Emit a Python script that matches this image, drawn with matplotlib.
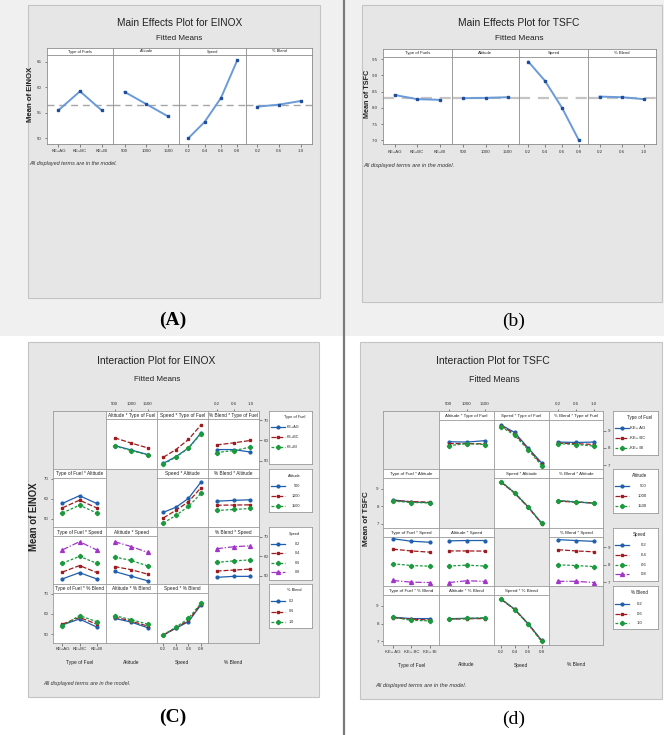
import matplotlib
matplotlib.use('Agg')
import matplotlib.pyplot as plt
from matplotlib import font_manager as fm
from matplotlib.patches import Rectangle
from matplotlib.lines import Line2D

# ---------------- data ----------------
FACTORS = ['Type of Fuel', 'Altitude', 'Speed', '% Blend']
MAIN_STRIPS = ['Type of Fuels', 'Altitude', 'Speed', '% Blend']
TYPE_LEVELS = ['KE+AG', 'KE+BC', 'KE+BI']
TYPE_LEVELS_D = ['KE+ AG', 'KE+ BC', 'KE+ BI']
ALT_LEVELS = [500, 1000, 1500]
SPEED_LEVELS = [0.2, 0.4, 0.6, 0.8]
BLEND_LEVELS = [0.2, 0.6, 1.0]

# Main effects EINOX
EINOX_MAIN_TYPE = [55.5, 59.2, 55.5]
EINOX_MAIN_ALT = [59.1, 56.7, 54.3]
EINOX_MAIN_SPEED = [50.0, 53.2, 57.9, 65.3]
EINOX_MAIN_BLEND = [56.2, 56.6, 57.3]
EINOX_MEAN = 56.6
EINOX_MAIN_TICKS = [50, 55, 60, 65]

# Main effects TSFC
TSFC_MAIN_TYPE = [8.40, 8.27, 8.25]
TSFC_MAIN_ALT = [8.30, 8.31, 8.33]
TSFC_MAIN_SPEED = [9.43, 8.83, 8.01, 7.01]
TSFC_MAIN_BLEND = [8.35, 8.33, 8.27]
TSFC_MEAN = 8.31
TSFC_MAIN_TICKS = [7.0, 7.5, 8.0, 8.5, 9.0, 9.5]

# Interaction EINOX  (series = levels of row factor, x = levels of column factor)
EINOX_ALT_BY_TYPE = [[57.5, 55.3, 53.0], [61.3, 58.7, 56.3], [57.3, 55.0, 52.8]]
EINOX_SPEED_BY_TYPE = [[48.7, 52.0, 56.3, 63.7], [51.7, 55.5, 60.5, 67.7], [48.3, 51.8, 56.2, 63.3]]
EINOX_BLEND_BY_TYPE = [[55.5, 55.5, 54.3], [57.8, 58.8, 60.0], [54.0, 55.0, 56.7]]
EINOX_TYPE_BY_ALT = [[57.7, 61.5, 57.7], [55.5, 59.3, 55.5], [53.0, 56.8, 53.0]]
EINOX_SPEED_BY_ALT = [[53.3, 55.8, 60.2, 68.3], [50.5, 54.3, 58.5, 65.5], [48.0, 51.8, 56.2, 62.7]]
EINOX_BLEND_BY_ALT = [[58.8, 59.2, 59.5], [56.8, 56.9, 57.0], [54.2, 54.7, 55.2]]
EINOX_TYPE_BY_SPEED = [[48.5, 51.7, 48.5], [52.0, 55.3, 51.8], [56.5, 60.0, 56.5], [63.3, 67.5, 63.3]]
EINOX_ALT_BY_SPEED = [[52.3, 49.9, 47.5], [54.8, 53.2, 50.9], [59.7, 57.9, 55.1], [67.5, 65.0, 62.0]]
EINOX_BLEND_BY_SPEED = [[49.3, 49.8, 49.8], [52.5, 53.0, 53.5], [56.9, 57.7, 58.2], [63.9, 64.9, 65.4]]
EINOX_TYPE_BY_BLEND = [[54.6, 57.5, 53.6], [55.0, 58.3, 55.0], [54.2, 59.2, 56.2]]
EINOX_ALT_BY_BLEND = [[57.8, 56.0, 53.2], [58.5, 56.5, 54.0], [59.2, 57.2, 55.0]]
EINOX_SPEED_BY_BLEND = [[49.6, 53.0, 56.2, 64.5], [49.7, 53.2, 56.8, 65.0], [49.8, 53.5, 57.8, 65.3]]
EINOX_INT_TICKS = [50, 60, 70]

# Interaction TSFC
TSFC_ALT_BY_TYPE = [[8.36, 8.34, 8.42], [8.25, 8.25, 8.24], [8.13, 8.25, 8.20]]
TSFC_SPEED_BY_TYPE = [[9.33, 8.90, 8.00, 7.14], [9.28, 8.82, 7.95, 7.06], [9.23, 8.74, 7.90, 6.98]]
TSFC_BLEND_BY_TYPE = [[8.34, 8.32, 8.34], [8.28, 8.25, 8.20], [8.25, 8.20, 8.11]]
TSFC_TYPE_BY_ALT = [[8.37, 8.25, 8.21], [8.33, 8.27, 8.24], [8.30, 8.22, 8.20]]
TSFC_SPEED_BY_ALT = [[9.40, 8.77, 7.97, 7.04], [9.38, 8.75, 7.95, 7.02], [9.42, 8.79, 7.99, 7.06]]
TSFC_BLEND_BY_ALT = [[8.32, 8.25, 8.18], [8.30, 8.24, 8.20], [8.33, 8.26, 8.19]]
TSFC_TYPE_BY_SPEED = [[9.50, 9.36, 9.30], [8.90, 8.80, 8.73], [8.06, 7.96, 7.92], [7.10, 7.00, 6.98]]
TSFC_ALT_BY_SPEED = [[9.38, 9.40, 9.40], [8.80, 8.80, 8.79], [7.93, 7.98, 7.93], [6.98, 7.08, 7.05]]
TSFC_BLEND_BY_SPEED = [[9.45, 9.40, 9.35], [8.87, 8.80, 8.75], [8.00, 7.96, 7.90], [7.05, 7.05, 6.98]]
TSFC_TYPE_BY_BLEND = [[8.36, 8.28, 8.28], [8.33, 8.25, 8.20], [8.36, 8.18, 8.15]]
TSFC_ALT_BY_BLEND = [[8.27, 8.30, 8.30], [8.25, 8.27, 8.28], [8.24, 8.29, 8.33]]
TSFC_SPEED_BY_BLEND = [[9.39, 8.82, 8.00, 7.05], [9.37, 8.80, 7.98, 7.02], [9.41, 8.78, 7.96, 6.98]]
TSFC_INT_TICKS = [7, 8, 9]

# ---------------- style ----------------
COLORS = ['#1f5fae', '#9e1b20', '#1a9a3c', '#a234c8']
MARKERS = ['o', 's', 'P', '^']
MSIZES = [2.0, 2.1, 2.8, 2.8]
LSTYLES = ['-', (0, (4, 1.5)), (0, (2.2, 1.4)), (0, (5, 1.5, 1, 1.5))]

_names = {f.name for f in fm.fontManager.ttflist}
SANS = 'Liberation Sans Narrow' if 'Liberation Sans Narrow' in _names else 'Liberation Sans'
plt.rcParams['font.family'] = [SANS, 'DejaVu Sans']
plt.rcParams['axes.linewidth'] = 0.6

W, H = 664, 735
fig = plt.figure(figsize=(W / 100, H / 100), dpi=100)
fig.patch.set_facecolor('white')
R = fig.canvas.get_renderer()


def axpx(x0, y0, x1, y1):
    return fig.add_axes([x0 / W, 1 - y1 / H, (x1 - x0) / W, (y1 - y0) / H])


def rectpx(x0, y0, x1, y1, fc, ec='none', lw=0.8, z=-5):
    fig.patches.append(Rectangle((x0 / W, 1 - y1 / H), (x1 - x0) / W, (y1 - y0) / H,
                                 transform=fig.transFigure, facecolor=fc,
                                 edgecolor=ec, linewidth=lw, zorder=z))


def size_for(s, width, **kw):
    t = fig.text(0, 0, s, fontsize=10, **kw)
    w = t.get_window_extent(renderer=R).width
    t.remove()
    return 10.0 * width / w


def put(x, y, s, width, ha='center', va='center', rotation=0, **kw):
    sz = size_for(s, width, **kw)
    return fig.text(x / W, 1 - y / H, s, fontsize=sz, ha=ha, va=va, rotation=rotation, **kw)


def style_spines(ax, color='#8c8c8c', lw=0.6):
    for sp in ax.spines.values():
        sp.set_color(color)
        sp.set_linewidth(lw)


def xinfo(k, type_labels):
    if k == 0:
        pos = list(range(len(type_labels)))
        lab = list(type_labels)
    elif k == 1:
        pos = ALT_LEVELS
        lab = [str(v) for v in ALT_LEVELS]
    elif k == 2:
        pos = SPEED_LEVELS
        lab = [f'{v:.1f}' for v in SPEED_LEVELS]
    else:
        pos = BLEND_LEVELS
        lab = [f'{v:.1f}' for v in BLEND_LEVELS]
    step = (pos[-1] - pos[0]) / (len(pos) - 1)
    return pos, lab, (pos[0] - 0.53 * step, pos[-1] + 0.53 * step)


# ---------------- backgrounds ----------------
rectpx(0, 0, 343, 336, '#f0f0f0', z=-6)
rectpx(345, 0, 664, 336, '#f0f0f0', z=-6)
rectpx(27.5, 5, 320, 298, '#e6e6e6', '#c4c4c4')
rectpx(362, 5, 662, 302, '#e6e6e6', '#c4c4c4')
rectpx(28, 342, 319, 697, '#e6e6e6', '#c4c4c4')
rectpx(360, 342, 662, 699, '#e6e6e6', '#c4c4c4')
fig.lines.append(Line2D([344 / W, 344 / W], [0, 1], transform=fig.transFigure,
                        color='#7a7a7a', lw=1.6, zorder=-3))

TICK_FS = 3.2
TITLE_K = 1.15


# ---------------- main effects ----------------
def main_effects(xb, y_s, y_t, y_b, vals, mean, ylim, yticks, ytl, strip_w,
                 dash_color, dash_lw):
    ssize = size_for(MAIN_STRIPS[0], strip_w)
    for k in range(4):
        pos, lab, xl = xinfo(k, TYPE_LEVELS)
        st = axpx(xb[k], y_s, xb[k + 1], y_t)
        st.set_facecolor('white')
        st.set_xticks([])
        st.set_yticks([])
        style_spines(st)
        st.text(0.5, 0.5, MAIN_STRIPS[k], transform=st.transAxes, ha='center',
                va='center', fontsize=ssize, color='#222222')
        ax = axpx(xb[k], y_t, xb[k + 1], y_b)
        ax.set_facecolor('white')
        ax.set_xlim(*xl)
        ax.set_ylim(*ylim)
        ax.axhline(mean, color=dash_color, lw=dash_lw, dashes=(5, 3.5), zorder=1)
        ax.plot(pos, vals[k], color='#6a9bd8', lw=1.4, marker='s', ms=2.0,
                mfc='#1f4f9c', mec='#1f4f9c', zorder=3)
        ax.set_xticks(pos)
        ax.set_xticklabels(lab)
        if k == 0:
            ax.set_yticks(yticks)
            ax.set_yticklabels(ytl)
        else:
            ax.set_yticks([])
        ax.tick_params(length=1.8, width=0.5, labelsize=TICK_FS, pad=2.0,
                       color='#555555', labelcolor='#333333')
        style_spines(ax)


main_effects([47, 113, 179.5, 246, 312], 48, 55, 144,
             [EINOX_MAIN_TYPE, EINOX_MAIN_ALT, EINOX_MAIN_SPEED, EINOX_MAIN_BLEND],
             EINOX_MEAN, (48.9, 66.3), EINOX_MAIN_TICKS,
             [str(v) for v in EINOX_MAIN_TICKS], 24, '#a6a6a6', 1.0)
put(179.3, 23.3, 'Main Effects Plot for EINOX', 109 * TITLE_K, color='#222222')
put(179.3, 38.3, 'Fitted Means', 40 * TITLE_K, color='#222222')
put(31, 94, 'Mean of EINOX', 55, rotation=90, fontweight='bold', color='#222222')
put(29, 163.7, 'All displayed terms are in the model.', 88.7, ha='left',
    fontstyle='italic', color='#333333')

main_effects([382.7, 451.7, 519.3, 587.7, 656], 49.3, 57.3, 144.3,
             [TSFC_MAIN_TYPE, TSFC_MAIN_ALT, TSFC_MAIN_SPEED, TSFC_MAIN_BLEND],
             TSFC_MEAN, (6.88, 9.56), TSFC_MAIN_TICKS,
             [f'{v:.1f}' for v in TSFC_MAIN_TICKS], 25.7, '#c4c4c4', 1.6)
put(519, 23, 'Main Effects Plot for TSFC', 106 * TITLE_K, color='#222222')
put(519, 38, 'Fitted Means', 42 * TITLE_K, color='#222222')
put(367.3, 94, 'Mean of TSFC', 48, rotation=90, fontweight='bold', color='#222222')
put(363, 165, 'All displayed terms are in the model.', 92, ha='left',
    fontstyle='italic', color='#333333')


# ---------------- interaction plots ----------------
def interaction(cols, rows, strip_h, data, ylim, yticks, ytl, type_labels,
                strip_w, leg_x, leg_boxes, leg_lab_x, leg_title_w, xlab_y, xlab_w):
    ssize = size_for('Altitude * Type of Fuel', strip_w)
    for r in range(4):
        for c in range(4):
            x0, x1 = cols[c], cols[c + 1]
            y0, y1 = rows[r], rows[r + 1]
            if r == c:
                g = axpx(x0, y0, x1, y1)
                g.set_facecolor('#e8e8e8')
                g.set_xticks([])
                g.set_yticks([])
                style_spines(g, '#9a9a9a')
                continue
            pos, lab, xl = xinfo(c, type_labels)
            st = axpx(x0, y0, x1, y0 + strip_h)
            st.set_facecolor('white')
            st.set_xlim(*xl)
            st.set_yticks([])
            style_spines(st, '#9a9a9a')
            st.text(0.5, 0.45, f'{FACTORS[c]} * {FACTORS[r]}', transform=st.transAxes,
                    ha='center', va='center', fontsize=ssize, color='#222222')
            if r == 0 and c in (1, 3):
                st.xaxis.tick_top()
                st.set_xticks(pos)
                st.set_xticklabels(lab)
                st.tick_params(length=1.8, width=0.5, labelsize=TICK_FS, pad=1.5,
                               color='#555555', labelcolor='#333333')
            else:
                st.set_xticks([])
            ax = axpx(x0, y0 + strip_h, x1, y1)
            ax.set_facecolor('white')
            ax.set_xlim(*xl)
            ax.set_ylim(*ylim)
            for i, series in enumerate(data[(r, c)]):
                ax.plot(pos, series, color=COLORS[i], ls=LSTYLES[i], lw=0.9,
                        marker=MARKERS[i], ms=MSIZES[i], mfc=COLORS[i], mec=COLORS[i],
                        zorder=3 + i)
            if r == 3 and c in (0, 2):
                ax.set_xticks(pos)
                ax.set_xticklabels(lab)
            else:
                ax.set_xticks([])
            if c == 0 and r in (1, 3):
                ax.set_yticks(yticks)
                ax.set_yticklabels(ytl)
            elif c == 3 and r in (0, 2):
                ax.yaxis.tick_right()
                ax.set_yticks(yticks)
                ax.set_yticklabels(ytl)
            else:
                ax.set_yticks([])
            ax.tick_params(length=1.8, width=0.5, labelsize=TICK_FS, pad=1.5,
                           color='#555555', labelcolor='#333333')
            style_spines(ax, '#9a9a9a')
    # bottom factor names
    xs = size_for('Type of Fuel', xlab_w)
    for c in range(4):
        fig.text((cols[c] + cols[c + 1]) / 2 / W, 1 - xlab_y / H, FACTORS[c],
                 ha='center', va='center', fontsize=xs, color='#222222')
    # legends
    tsize = size_for('Type of Fuel', leg_title_w)
    lsize = tsize * 0.95
    level_labels = [list(type_labels), [str(v) for v in ALT_LEVELS],
                    [f'{v:.1f}' for v in SPEED_LEVELS], [f'{v:.1f}' for v in BLEND_LEVELS]]
    for r in range(4):
        by0, by1, off, sp = leg_boxes[r]
        lg = axpx(leg_x[0], by0, leg_x[1], by1)
        lg.set_xlim(0, 1)
        lg.set_ylim(by1 - by0, 0)
        lg.set_facecolor('white')
        lg.set_xticks([])
        lg.set_yticks([])
        style_spines(lg, '#9a9a9a')
        lg.text(0.6, 6.3, FACTORS[r], ha='center', va='center', fontsize=tsize,
                color='#222222')
        for i, lab in enumerate(level_labels[r]):
            yy = off + i * sp
            lg.plot([0.05, 0.36], [yy, yy], color=COLORS[i], ls=LSTYLES[i], lw=0.9)
            lg.plot([0.205], [yy], color=COLORS[i], marker=MARKERS[i], ms=MSIZES[i],
                    ls='none')
            if r == 0:
                lg.text(leg_lab_x[0], yy, lab, ha='left', va='center', fontsize=lsize,
                        color='#222222')
            else:
                lg.text(leg_lab_x[r], yy, lab, ha='right', va='center', fontsize=lsize,
                        color='#222222')


EINOX_DATA = {
    (0, 1): EINOX_ALT_BY_TYPE, (0, 2): EINOX_SPEED_BY_TYPE, (0, 3): EINOX_BLEND_BY_TYPE,
    (1, 0): EINOX_TYPE_BY_ALT, (1, 2): EINOX_SPEED_BY_ALT, (1, 3): EINOX_BLEND_BY_ALT,
    (2, 0): EINOX_TYPE_BY_SPEED, (2, 1): EINOX_ALT_BY_SPEED, (2, 3): EINOX_BLEND_BY_SPEED,
    (3, 0): EINOX_TYPE_BY_BLEND, (3, 1): EINOX_ALT_BY_BLEND, (3, 2): EINOX_SPEED_BY_BLEND,
}
TSFC_DATA = {
    (0, 1): TSFC_ALT_BY_TYPE, (0, 2): TSFC_SPEED_BY_TYPE, (0, 3): TSFC_BLEND_BY_TYPE,
    (1, 0): TSFC_TYPE_BY_ALT, (1, 2): TSFC_SPEED_BY_ALT, (1, 3): TSFC_BLEND_BY_ALT,
    (2, 0): TSFC_TYPE_BY_SPEED, (2, 1): TSFC_ALT_BY_SPEED, (2, 3): TSFC_BLEND_BY_SPEED,
    (3, 0): TSFC_TYPE_BY_BLEND, (3, 1): TSFC_ALT_BY_BLEND, (3, 2): TSFC_SPEED_BY_BLEND,
}

interaction([53.3, 105.7, 156.7, 207.7, 259.3], [410.7, 469, 527.3, 584, 642.7], 8.7,
            EINOX_DATA, (45.9, 70.4), EINOX_INT_TICKS, [str(v) for v in EINOX_INT_TICKS],
            TYPE_LEVELS, 46.7, (269.3, 311.7),
            [(410.7, 464, 16.6, 10), (469.3, 511.7, 16.7, 10),
             (527.3, 580, 16.7, 9.3), (584, 627.7, 17, 10.5)],
            [0.42, 0.73, 0.73, 0.58], 21.7, 662.7, 26.7)
put(156.3, 360.7, 'Interaction Plot for EINOX', 103 * TITLE_K, color='#222222')
put(156.7, 379, 'Fitted Means', 40 * TITLE_K, color='#222222')
put(34.3, 517, 'Mean of EINOX', 69, rotation=90, fontweight='bold', color='#222222')
put(43.3, 683.3, 'All displayed terms are in the model.', 86, ha='left',
    fontstyle='italic', color='#333333')

interaction([383.3, 439.3, 494, 548.7, 603.3], [411, 469, 527.7, 586, 645], 9,
            TSFC_DATA, (6.78, 9.62), TSFC_INT_TICKS, [str(v) for v in TSFC_INT_TICKS],
            TYPE_LEVELS_D, 42.7, (612.7, 657.7),
            [(411, 455, 17.3, 10), (469.3, 512.7, 16.7, 10),
             (528.3, 581, 16.7, 9.8), (586, 629, 18.3, 9.5)],
            [0.385, 0.755, 0.755, 0.67], 25, 665, 26.7)
put(493.3, 360.7, 'Interaction Plot for TSFC', 100 * TITLE_K, color='#222222')
put(494, 379, 'Fitted Means', 44 * TITLE_K, color='#222222')
put(366.7, 519, 'Mean of TSFC', 55, rotation=90, fontweight='bold', color='#222222')
put(375, 686, 'All displayed terms are in the model.', 90.7, ha='left',
    fontstyle='italic', color='#333333')

# ---------------- panel labels ----------------
fig.text(173 / W, 1 - 320 / H, '(A)', ha='center', va='center', fontsize=14,
         family='Liberation Serif', fontweight='bold')
fig.text(514 / W, 1 - 321 / H, '(b)', ha='center', va='center', fontsize=14,
         family='Liberation Serif')
fig.text(173 / W, 1 - 717 / H, '(C)', ha='center', va='center', fontsize=14,
         family='Liberation Serif', fontweight='bold')
fig.text(514 / W, 1 - 719 / H, '(d)', ha='center', va='center', fontsize=14,
         family='Liberation Serif')

fig.savefig('out.png', dpi=100, facecolor=fig.get_facecolor())
